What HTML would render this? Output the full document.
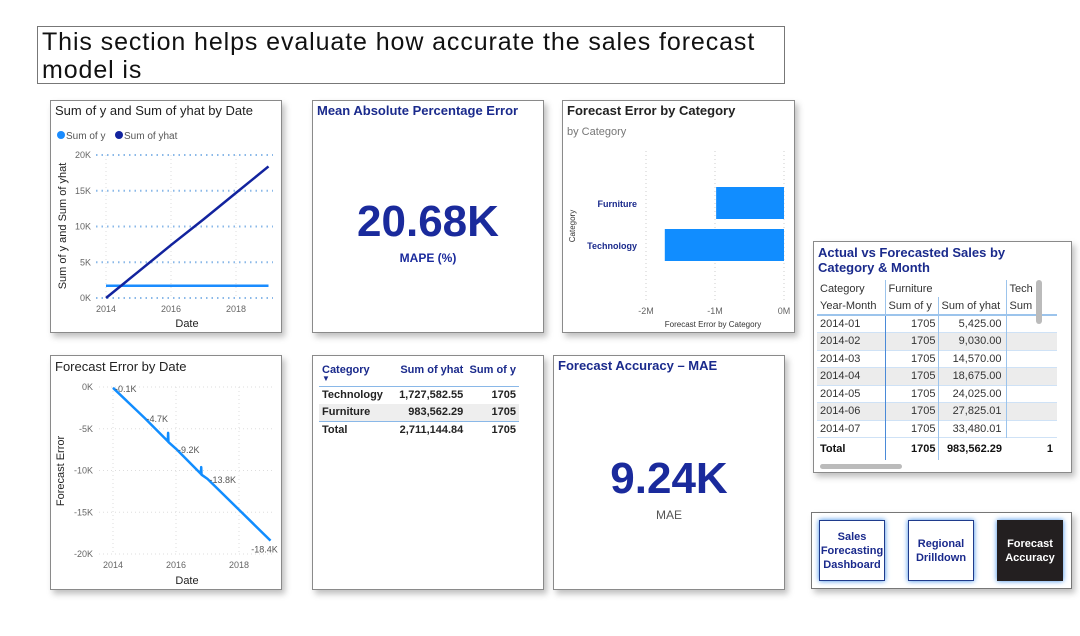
<!DOCTYPE html>
<html><head><meta charset="utf-8">
<style>
*{box-sizing:border-box;margin:0;padding:0}
body{width:1080px;height:636px;background:#fff;position:relative;overflow:hidden;font-family:"Liberation Sans","DejaVu Sans",sans-serif;color:#222}
.panel{position:absolute;background:#fff;border:1px solid #8a8a8a;box-shadow:3px 4px 6px rgba(0,0,0,0.25)}
.ttl{position:absolute;left:4px;top:2px;font-size:13px;color:#222}
.bt{font-weight:bold;color:#1a2a8c}
svg text{font-family:"Liberation Sans",sans-serif}
table{border-collapse:collapse}
.nav{position:absolute;width:66px;height:61px;border:1px solid #1f3b8c;box-shadow:0 0 5px #3a8be8;display:flex;align-items:center;justify-content:center;text-align:center;font-size:11px;font-weight:bold;color:#1a2a8c;line-height:14px;background:#fff}
</style></head><body>
<div style="position:absolute;left:37px;top:26px;width:748px;height:58px;border:1px solid #777;font-size:25px;line-height:28px;padding:1px 4px;color:#111;letter-spacing:0.9px">This section helps evaluate how accurate the sales forecast<br>model is</div>

<div class="panel" style="left:50px;top:100px;width:232px;height:233px">
<svg width="232" height="233" style="position:absolute;left:0;top:0" id="c1"></svg></div>

<div class="panel" style="left:312px;top:100px;width:232px;height:233px">
<div class="ttl bt" style="font-size:13px">Mean Absolute Percentage Error</div>
<div style="position:absolute;left:0;width:100%;top:96px;text-align:center;font-size:44px;font-weight:bold;color:#1a2a9c">20.68K</div>
<div style="position:absolute;left:0;width:100%;top:150px;text-align:center;font-size:12px;font-weight:bold;color:#1a2a9c">MAPE (%)</div>
</div>

<div class="panel" style="left:562px;top:100px;width:233px;height:233px">
<svg width="233" height="233" style="position:absolute;left:0;top:0" id="c3"></svg></div>

<div class="panel" style="left:50px;top:355px;width:232px;height:235px">
<svg width="232" height="235" style="position:absolute;left:0;top:0" id="c4"></svg></div>

<div class="panel" style="left:312px;top:355px;width:232px;height:235px">
<table style="position:absolute;left:6px;top:8px;width:200px;font-size:11px;font-weight:bold">
<tr style="color:#1a2a8c;border-bottom:1px solid #8ab8e8;height:22px"><td style="padding-left:3px;vertical-align:top">Category<div style="font-size:8px;line-height:6px">▼</div></td><td style="text-align:right;vertical-align:top">Sum of yhat</td><td style="text-align:right;padding-right:3px;vertical-align:top">Sum of y</td></tr>
<tr style="height:18px"><td style="padding-left:3px">Technology</td><td style="text-align:right">1,727,582.55</td><td style="text-align:right;padding-right:3px">1705</td></tr>
<tr style="height:17px;background:#eee;border-bottom:1px solid #8ab8e8"><td style="padding-left:3px">Furniture</td><td style="text-align:right">983,562.29</td><td style="text-align:right;padding-right:3px">1705</td></tr>
<tr style="height:18px"><td style="padding-left:3px">Total</td><td style="text-align:right">2,711,144.84</td><td style="text-align:right;padding-right:3px">1705</td></tr>
</table></div>

<div class="panel" style="left:553px;top:355px;width:232px;height:235px">
<div class="ttl bt">Forecast Accuracy – MAE</div>
<div style="position:absolute;left:0;width:100%;top:98px;text-align:center;font-size:44px;font-weight:bold;color:#1a2a9c">9.24K</div>
<div style="position:absolute;left:0;width:100%;top:152px;text-align:center;font-size:12px;color:#555">MAE</div>
</div>

<div class="panel" style="left:813px;top:241px;width:259px;height:232px;overflow:hidden">
<div class="bt" style="position:absolute;left:4px;top:3px;font-size:13px;line-height:15px">Actual vs Forecasted Sales by<br>Category &amp; Month</div>
<table style="position:absolute;left:3px;top:38px;font-size:11px;color:#333;width:240px;table-layout:fixed">
<colgroup><col style="width:68px"><col style="width:53px"><col style="width:68px"><col style="width:51px"></colgroup>
<tr style="height:17px"><td style="padding-left:3px;border-right:1px solid #9cc4ec">Category</td><td style="padding-left:3px" colspan="2">Furniture</td><td style="padding-left:3px;border-left:1px solid #9cc4ec">Tech</td></tr>
<tr style="height:18px;border-bottom:2px solid #9cc4ec"><td style="padding-left:3px;border-right:1px solid #9cc4ec">Year-Month</td><td style="padding-left:3px;border-right:1px solid #9cc4ec">Sum of y</td><td style="padding-left:3px">Sum of yhat</td><td style="padding-left:3px;border-left:1px solid #9cc4ec">Sum</td></tr>
<tbody id="mrows"></tbody>
<tr style="height:22px;font-weight:bold;color:#111"><td style="padding-left:3px;border-right:1px solid #4a8ad8">Total</td><td style="text-align:right;padding-right:2px;border-right:1px solid #9cc4ec">1705</td><td style="text-align:right;padding-right:4px">983,562.29</td><td style="text-align:right;padding-right:4px">1</td></tr>
</table>
<div style="position:absolute;left:222px;top:38px;width:6px;height:44px;background:#bbb;border-radius:3px"></div>
<div style="position:absolute;left:6px;top:222px;width:82px;height:5px;background:#bbb;border-radius:3px"></div>
</div>

<div class="panel" style="left:811px;top:512px;width:261px;height:77px;border-color:#777"></div>
<div class="nav" style="left:819px;top:520px">Sales Forecasting Dashboard</div>
<div class="nav" style="left:908px;top:520px">Regional Drilldown</div>
<div class="nav" style="left:997px;top:520px;background:#231f20;color:#fff;border-color:#231f20">Forecast Accuracy</div>

<script>
const NS='http://www.w3.org/2000/svg';
function mk(p,t,a,txt){const e=document.createElementNS(NS,t);for(const k in a)e.setAttribute(k,a[k]);if(txt!==undefined)e.textContent=txt;p.appendChild(e);return e;}

// Chart 1 data
const c1Years=[2014,2015,2016,2017,2018,2019];
const c1Y=[1705,1705,1705,1705,1705,1705];
const c1Yhat=[0,3700,7400,11000,14700,18400];
const c1Ticks=[0,5000,10000,15000,20000];
const c1TickLabels=['0K','5K','10K','15K','20K'];
const c1XTicks=[2014,2016,2018];

// Chart 3 data
const c3Cats=['Furniture','Technology'];
const c3Vals=[-983562,-1727583];
const c3Ticks=[-2000000,-1000000,0];
const c3TickLabels=['-2M','-1M','0M'];

// Chart 4 data
const c4Years=[2014,2015,2015.74,2015.75,2015.76,2016,2016.79,2016.8,2016.81,2017,2018,2019];
const c4Vals=[-100,-3700,-6500,-5500,-6600,-7400,-10400,-9600,-10500,-11000,-14700,-18400];
const c4Labels=[[2014,-100,'-0.1K'],[2015,-3700,'-4.7K'],[2016,-7400,'-9.2K'],[2017,-11000,'-13.8K'],[2019,-18400,'-18.4K']];
const c4Ticks=[0,-5000,-10000,-15000,-20000];
const c4TickLabels=['0K','-5K','-10K','-15K','-20K'];
const c4XTicks=[2014,2016,2018];

// Matrix data
const mMonths=['2014-01','2014-02','2014-03','2014-04','2014-05','2014-06','2014-07'];
const mY=[1705,1705,1705,1705,1705,1705,1705];
const mYhat=['5,425.00','9,030.00','14,570.00','18,675.00','24,025.00','27,825.01','33,480.01'];

// Chart 1
(function(){
const s=document.getElementById('c1');
mk(s,'text',{x:4,y:14,'font-size':13,fill:'#222'},'Sum of y and Sum of yhat by Date');
mk(s,'circle',{cx:10,cy:34,r:4,fill:'#1a8cff'});
mk(s,'text',{x:15,y:38,'font-size':10,fill:'#555'},'Sum of y');
mk(s,'circle',{cx:68,cy:34,r:4,fill:'#12239e'});
mk(s,'text',{x:73,y:38,'font-size':10,fill:'#555'},'Sum of yhat');
const X=v=>55+(v-2014)*32.5, Y=v=>197-v/20000*143;
c1Ticks.forEach((t,i)=>{mk(s,'line',{x1:45,x2:222,y1:Y(t),y2:Y(t),stroke:'#8ab8e8','stroke-width':2,'stroke-dasharray':'1.5 4'});
mk(s,'text',{x:40,y:Y(t)+3,'font-size':9,fill:'#666','text-anchor':'end'},c1TickLabels[i]);});
c1XTicks.forEach(t=>{mk(s,'line',{x1:X(t),x2:X(t),y1:54,y2:197,stroke:'#ddd','stroke-dasharray':'1 3'});
mk(s,'text',{x:X(t),y:211,'font-size':9,fill:'#666','text-anchor':'middle'},t);});
mk(s,'polyline',{points:c1Years.map((d,i)=>X(d)+','+Y(c1Y[i])).join(' '),fill:'none',stroke:'#1a8cff','stroke-width':2.5});
mk(s,'polyline',{points:c1Years.map((d,i)=>X(d)+','+Y(c1Yhat[i])).join(' '),fill:'none',stroke:'#12239e','stroke-width':2.5});
mk(s,'text',{x:136,y:226,'font-size':11,fill:'#222','text-anchor':'middle'},'Date');
mk(s,'text',{x:15,y:125,'font-size':11,fill:'#222','text-anchor':'middle',transform:'rotate(-90 15 125)'},'Sum of y and Sum of yhat');
})();

// Chart 3
(function(){
const s=document.getElementById('c3');
mk(s,'text',{x:4,y:14,'font-size':13,'font-weight':'bold',fill:'#222'},'Forecast Error by Category');
mk(s,'text',{x:4,y:34,'font-size':11,fill:'#777'},'by Category');
const X=v=>221+v/1000000*69;
c3Ticks.forEach((t,i)=>{mk(s,'line',{x1:X(t),x2:X(t),y1:50,y2:200,stroke:'#ccc','stroke-dasharray':'1 3'});
mk(s,'text',{x:X(t),y:213,'font-size':9,fill:'#666','text-anchor':'middle'},c3TickLabels[i]);});
c3Cats.forEach((c,i)=>{const y=86+i*42;
mk(s,'rect',{x:X(c3Vals[i]),y:y,width:X(0)-X(c3Vals[i]),height:32,fill:'#118dff'});
mk(s,'text',{x:74,y:y+20,'font-size':9,'font-weight':'bold',fill:'#1a2a8c','text-anchor':'end'},c);});
mk(s,'text',{x:150,y:226,'font-size':8,fill:'#333','text-anchor':'middle'},'Forecast Error by Category');
mk(s,'text',{x:12,y:125,'font-size':8,fill:'#333','text-anchor':'middle',transform:'rotate(-90 12 125)'},'Category');
})();

// Chart 4
(function(){
const s=document.getElementById('c4');
mk(s,'text',{x:4,y:15,'font-size':13,fill:'#222'},'Forecast Error by Date');
const X=v=>62+(v-2014)*31.5, Y=v=>31-v/20000*167;
c4Ticks.forEach((t,i)=>{mk(s,'line',{x1:48,x2:222,y1:Y(t),y2:Y(t),stroke:'#ddd','stroke-dasharray':'1 3'});
mk(s,'text',{x:42,y:Y(t)+3,'font-size':9,fill:'#666','text-anchor':'end'},c4TickLabels[i]);});
c4XTicks.forEach(t=>{mk(s,'line',{x1:X(t),x2:X(t),y1:31,y2:198,stroke:'#ddd','stroke-dasharray':'1 3'});
mk(s,'text',{x:X(t),y:212,'font-size':9,fill:'#666','text-anchor':'middle'},t);});
mk(s,'polyline',{points:c4Years.map((d,i)=>X(d)+','+Y(c4Vals[i])).join(' '),fill:'none',stroke:'#118dff','stroke-width':2.5,'stroke-linejoin':'round'});
c4Labels.forEach(l=>mk(s,'text',{x:X(l[0])+(l[0]==2019?-6:2),y:Y(l[1])+(l[0]==2019?12:4),'font-size':9,fill:'#555','text-anchor':l[0]==2019?'middle':'start'},l[2]));
mk(s,'text',{x:136,y:228,'font-size':11,fill:'#222','text-anchor':'middle'},'Date');
mk(s,'text',{x:13,y:115,'font-size':11,fill:'#222','text-anchor':'middle',transform:'rotate(-90 13 115)'},'Forecast Error');
})();

// Matrix
(function(){
const tb=document.getElementById('mrows');
mMonths.forEach((m,i)=>{const tr=document.createElement('tr');


tr.style.height='17.5px';tr.style.borderBottom='1px solid #cfe2f6';if(i%2)tr.style.background='#ececec';
tr.innerHTML='<td style="padding-left:3px;border-right:1px solid #4a8ad8">'+m+'</td><td style="text-align:right;padding-right:2px;border-right:1px solid #9cc4ec">'+mY[i]+'</td><td style="text-align:right;padding-right:4px">'+mYhat[i]+'</td><td style="border-left:1px solid #9cc4ec"></td>';
tb.appendChild(tr);});
})();
</script>
</body></html>
